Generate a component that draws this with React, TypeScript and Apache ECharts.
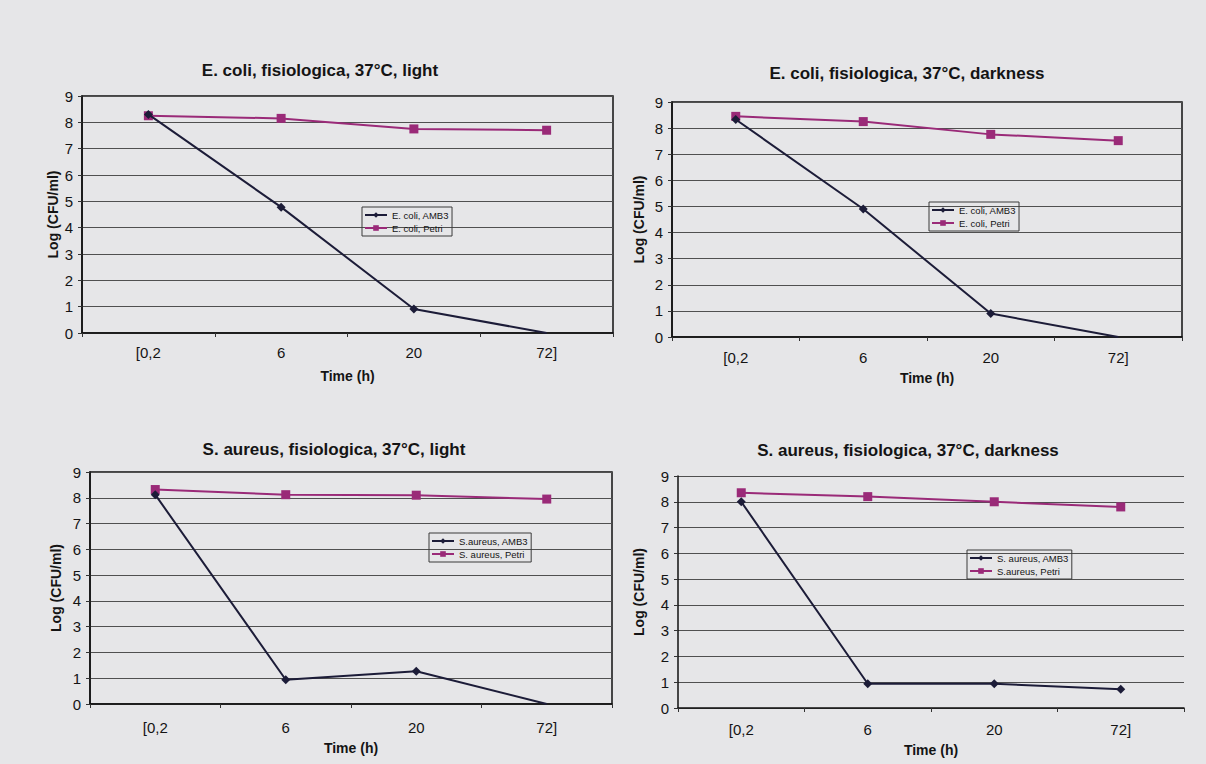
import React, { useEffect, useRef } from 'react';
import * as echarts from 'echarts';

// ---- data ----
const timeCategories = ['[0,2', '6', '20', '72]'];
const yAxisMin = 0;
const yAxisMax = 9;
const yAxisStep = 1;

const panelTitles = [
  'E. coli, fisiologica, 37°C, light',
  'E. coli, fisiologica, 37°C, darkness',
  'S. aureus, fisiologica, 37°C, light',
  'S. aureus, fisiologica, 37°C, darkness',
];
const xAxisTitle = 'Time (h)';
const yAxisTitle = 'Log (CFU/ml)';

const amb3Names = ['E. coli, AMB3', 'E. coli, AMB3', 'S.aureus, AMB3', 'S. aureus, AMB3'];
const petriNames = ['E. coli, Petri', 'E. coli, Petri', 'S. aureus, Petri', 'S.aureus, Petri'];

const ecoliLightAMB3 = [8.3, 4.78, 0.91, 0];
const ecoliLightPetri = [8.25, 8.15, 7.75, 7.7];
const ecoliDarkAMB3 = [8.33, 4.9, 0.9, 0];
const ecoliDarkPetri = [8.45, 8.25, 7.76, 7.52];
const saureusLightAMB3 = [8.12, 0.94, 1.27, 0];
const saureusLightPetri = [8.32, 8.12, 8.1, 7.95];
const saureusDarkAMB3 = [8.0, 0.94, 0.94, 0.73];
const saureusDarkPetri = [8.35, 8.2, 8.0, 7.8];

const amb3Values = [ecoliLightAMB3, ecoliDarkAMB3, saureusLightAMB3, saureusDarkAMB3];
const petriValues = [ecoliLightPetri, ecoliDarkPetri, saureusLightPetri, saureusDarkPetri];

// ---- layout / style ----
const layouts = [
  { grid: { left: 82, top: 96, width: 531, height: 237 }, border: true, titleX: 320, titleY: 62, legend: { left: 362, top: 207 }, yNameGap: 22, xNameGap: 36, labelMargin: 12 },
  { grid: { left: 672, top: 102, width: 510, height: 235 }, border: true, titleX: 907, titleY: 65, legend: { left: 929, top: 202 }, yNameGap: 26, xNameGap: 34, labelMargin: 13 },
  { grid: { left: 90, top: 472, width: 522, height: 232 }, border: true, titleX: 334, titleY: 441, legend: { left: 429, top: 533 }, yNameGap: 27, xNameGap: 37, labelMargin: 16 },
  { grid: { left: 678, top: 476, width: 506, height: 232 }, border: false, titleX: 908, titleY: 442, legend: { left: 967, top: 550 }, yNameGap: 32, xNameGap: 35, labelMargin: 14 },
];

const FONT = '"Liberation Sans", Arial, Helvetica, sans-serif';
const AMB3_COLOR = '#1c1c38';
const PETRI_COLOR = '#9a2a78';
const TEXT_COLOR = '#141414';
const GRID_COLOR = '#505050';

function toSeriesData(values: number[]) {
  return values.map((v) => (v <= 0 ? { value: v, symbol: 'none' } : v));
}

export default function App() {
  const ref = useRef<HTMLDivElement>(null);

  useEffect(() => {
    if (!ref.current) return;
    const chart = echarts.init(ref.current, null, { renderer: 'svg' });

    const title: any[] = [];
    const grid: any[] = [];
    const xAxis: any[] = [];
    const yAxis: any[] = [];
    const legend: any[] = [];
    const series: any[] = [];

    layouts.forEach((L, i) => {
      title.push({
        text: panelTitles[i],
        left: L.titleX,
        top: L.titleY,
        textAlign: 'center',
        padding: 0,
        textStyle: { fontFamily: FONT, fontSize: 17, fontWeight: 'bold', color: TEXT_COLOR },
      });
      grid.push({
        ...L.grid,
        show: L.border,
        borderColor: '#111',
        borderWidth: 1.5,
        backgroundColor: 'transparent',
        containLabel: false,
      });
      xAxis.push({
        type: 'category',
        gridIndex: i,
        data: timeCategories,
        boundaryGap: true,
        name: xAxisTitle,
        nameLocation: 'middle',
        nameGap: L.xNameGap,
        nameTextStyle: { fontFamily: FONT, fontSize: 14, fontWeight: 'bold', color: TEXT_COLOR },
        axisLine: { show: true, lineStyle: { color: '#111', width: 1.5 } },
        axisTick: { show: true, inside: false, length: 4, alignWithLabel: false, lineStyle: { color: '#333' } },
        axisLabel: { margin: L.labelMargin, fontFamily: FONT, fontSize: 15, color: TEXT_COLOR },
        splitLine: { show: false },
      });
      yAxis.push({
        type: 'value',
        gridIndex: i,
        min: yAxisMin,
        max: yAxisMax,
        interval: yAxisStep,
        name: yAxisTitle,
        nameLocation: 'middle',
        nameRotate: 90,
        nameGap: L.yNameGap,
        nameTextStyle: { fontFamily: FONT, fontSize: 14, fontWeight: 'bold', color: TEXT_COLOR },
        axisLine: { show: true, lineStyle: { color: '#111', width: 1.5 } },
        axisTick: { show: true, inside: false, length: 4, lineStyle: { color: '#333' } },
        axisLabel: { margin: 9, fontFamily: FONT, fontSize: 15, color: TEXT_COLOR },
        splitLine: { show: true, lineStyle: { color: GRID_COLOR, width: 1 } },
      });
      legend.push({
        data: [amb3Names[i], petriNames[i]],
        orient: 'vertical',
        left: L.legend.left,
        top: L.legend.top,
        padding: [3, 3, 3, 2],
        itemGap: 3,
        itemWidth: 22,
        itemHeight: 7,
        borderColor: '#3a3a3a',
        borderWidth: 1,
        borderRadius: 0,
        backgroundColor: 'transparent',
        selectedMode: false,
        textStyle: { fontFamily: FONT, fontSize: 9.5, color: TEXT_COLOR },
      });
      series.push({
        name: amb3Names[i],
        type: 'line',
        xAxisIndex: i,
        yAxisIndex: i,
        data: toSeriesData(amb3Values[i]),
        symbol: 'diamond',
        symbolSize: 9,
        lineStyle: { color: AMB3_COLOR, width: 2 },
        itemStyle: { color: AMB3_COLOR },
        z: 3,
      });
      series.push({
        name: petriNames[i],
        type: 'line',
        xAxisIndex: i,
        yAxisIndex: i,
        data: toSeriesData(petriValues[i]),
        symbol: 'rect',
        symbolSize: 9,
        lineStyle: { color: PETRI_COLOR, width: 2 },
        itemStyle: { color: PETRI_COLOR },
        z: 2,
      });
    });

    chart.setOption({
      animation: false,
      backgroundColor: '#e6e6e8',
      textStyle: { fontFamily: FONT },
      title,
      grid,
      xAxis,
      yAxis,
      legend,
      series,
    });

    return () => chart.dispose();
  }, []);

  return (
    <div
      ref={ref}
      style={{ position: 'fixed', left: 0, top: 0, width: 1206, height: 764, background: '#e6e6e8' }}
    />
  );
}
